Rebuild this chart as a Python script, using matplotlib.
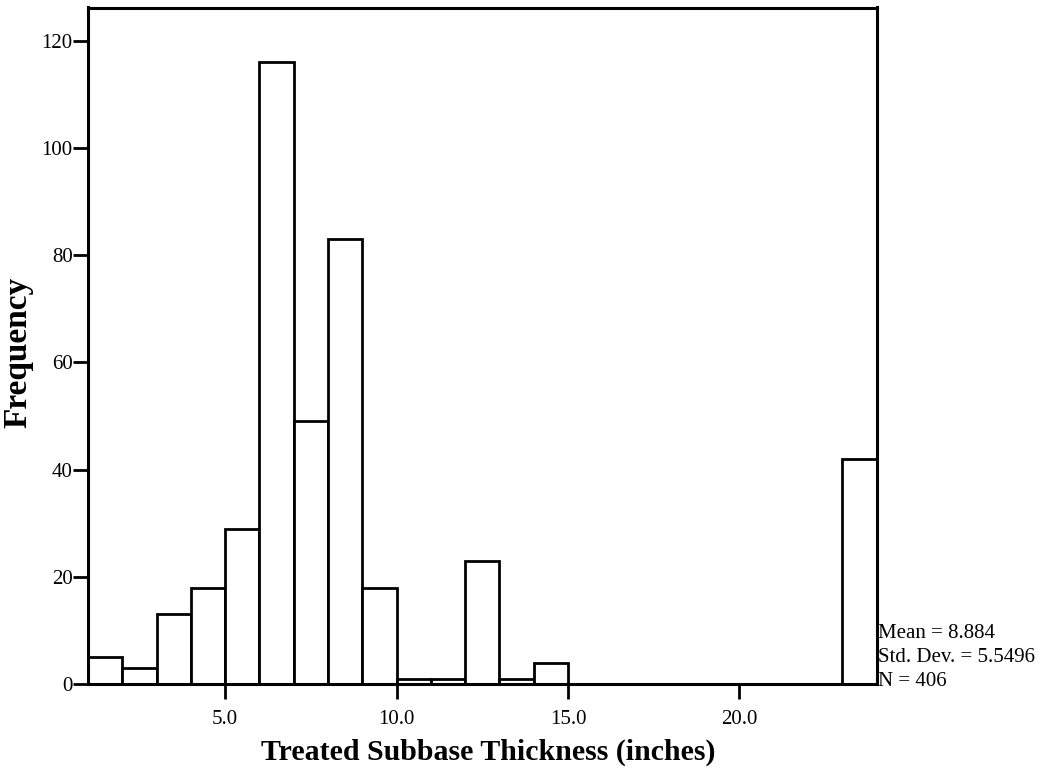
import matplotlib
matplotlib.use("Agg")
import matplotlib.pyplot as plt
from matplotlib.ticker import FormatStrFormatter

plt.rcParams["font.family"] = ["Liberation Serif", "DejaVu Serif"]

# histogram bins (width 1.0) and their frequencies
bin_edges = list(range(1, 25))
counts = [5, 3, 13, 18, 29, 116, 49, 83, 18, 1, 1, 23, 1, 4,
          0, 0, 0, 0, 0, 0, 0, 0, 42]
x_ticks = [5.0, 10.0, 15.0, 20.0]
y_ticks = [0, 20, 40, 60, 80, 100, 120]
stats = ["Mean = 8.884", "Std. Dev. = 5.5496", "N = 406"]

W, H, dpi = 1047, 771, 100
fig = plt.figure(figsize=(W / dpi, H / dpi), dpi=dpi)
ax = fig.add_axes([88 / W, 1 - 684 / H, (876.5 - 88) / W, (684 - 7.5) / H])

ax.bar(bin_edges[:-1], counts, width=1.0, align="edge",
       facecolor="white", edgecolor="black", linewidth=2.0, zorder=2)

ax.set_xlim(1, 24)
ax.set_ylim(0, 126.2)
ax.set_xticks(x_ticks)
ax.set_yticks(y_ticks)
ax.xaxis.set_major_formatter(FormatStrFormatter("%.1f"))

for s in ax.spines.values():
    s.set_linewidth(2.2)
    s.set_zorder(3)
ax.tick_params(axis="both", direction="out", length=11, width=2.0,
               labelsize=15, colors="black")
ax.tick_params(axis="x", pad=8)
ax.tick_params(axis="y", pad=0)

ax.set_xlabel("Treated Subbase Thickness (inches)", fontsize=21.5,
              fontweight="bold")
ax.xaxis.set_label_coords(0.507, -0.081)
ax.set_ylabel("Frequency", fontsize=24, fontweight="bold")
ax.yaxis.set_label_coords(-0.069, 0.49)

# stats box to the right of the plot
for i, s in enumerate(stats):
    fig.text(878 / W, 1 - (638 + i * 24) / H, s, fontsize=15,
             ha="left", va="baseline")

fig.savefig("out.png", dpi=dpi)
